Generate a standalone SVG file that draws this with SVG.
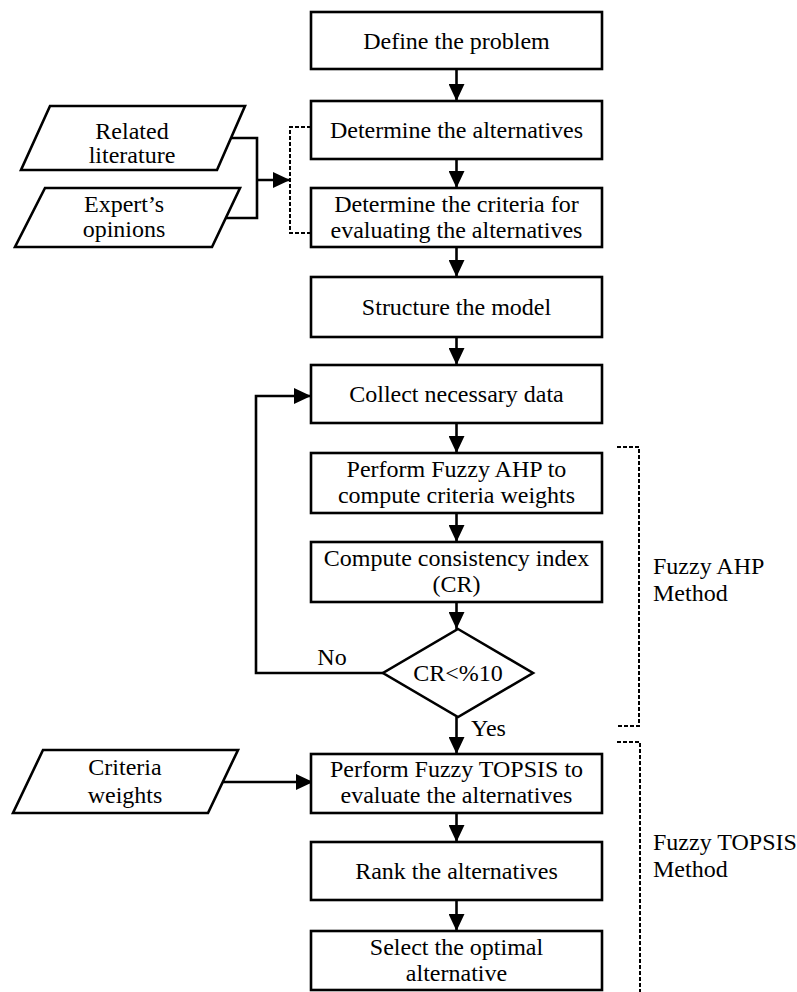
<svg xmlns="http://www.w3.org/2000/svg" width="797" height="992" viewBox="0 0 797 992">
<style>
.box{fill:#fff;stroke:#000;stroke-width:2.6}
.t{font-family:"Liberation Serif","Times New Roman",serif;font-size:24px;fill:#000;text-anchor:middle}
.tl{font-family:"Liberation Serif","Times New Roman",serif;font-size:24px;fill:#000;text-anchor:start}
.ln{fill:none;stroke:#000;stroke-width:2.6}
.arr{fill:none;stroke:#000;stroke-width:2.6;marker-end:url(#ah)}
.dash{fill:none;stroke:#000;stroke-width:2;stroke-dasharray:4 2}
</style>
<defs>
<marker id="ah" markerUnits="userSpaceOnUse" markerWidth="18" markerHeight="16" refX="17" refY="8" orient="auto">
<path d="M0,0 L17,8 L0,16 Z" fill="#000"/>
</marker>
</defs>
<rect width="797" height="992" fill="#fff"/>

<g id="connectors">
<line class="arr" x1="456.5" y1="69" x2="456.5" y2="101"/>
<line class="arr" x1="456.5" y1="159" x2="456.5" y2="188"/>
<line class="arr" x1="456.5" y1="247" x2="456.5" y2="277"/>
<line class="arr" x1="456.5" y1="337" x2="456.5" y2="365"/>
<line class="arr" x1="456.5" y1="423" x2="456.5" y2="453"/>
<line class="arr" x1="456.5" y1="513" x2="456.5" y2="542"/>
<line class="arr" x1="456.5" y1="602" x2="456.5" y2="629"/>
<line class="arr" x1="456.5" y1="717" x2="456.5" y2="754"/>
<line class="arr" x1="456.5" y1="813" x2="456.5" y2="842"/>
<line class="arr" x1="456.5" y1="900" x2="456.5" y2="931"/>
<polyline class="ln" points="231,138 257,138 257,218 226,218"/>
<line class="arr" x1="257" y1="180" x2="290" y2="180"/>
<polyline class="dash" points="311,127 290,127 290,233 311,233"/>
<polyline class="arr" points="383,673 256,673 256,396 311,396"/>
<line class="arr" x1="223" y1="782" x2="313" y2="782"/>
<text class="t" x="332" y="665">No</text>
<text class="tl" x="471" y="736">Yes</text>
</g>

<g id="define">
<rect class="box" x="311" y="12" width="291" height="57"/>
<text class="t" x="456.5" y="49">Define the problem</text>
</g>
<g id="alternatives">
<rect class="box" x="311" y="101" width="291" height="58"/>
<text class="t" x="456.5" y="138">Determine the alternatives</text>
</g>
<g id="criteria">
<rect class="box" x="311" y="188" width="291" height="59"/>
<text class="t" x="456.5" y="211.5">Determine the criteria for</text>
<text class="t" x="456.5" y="237.5">evaluating the alternatives</text>
</g>
<g id="literature">
<polygon class="box" points="50,106 245,106 217,170 21,170"/>
<text class="t" x="132" y="139">Related</text>
<text class="t" x="132" y="163">literature</text>
</g>
<g id="experts">
<polygon class="box" points="45,188 240,188 212,247 15,247"/>
<text class="t" x="124" y="212">Expert’s</text>
<text class="t" x="124" y="237">opinions</text>
</g>
<g id="structure">
<rect class="box" x="311" y="277" width="291" height="60"/>
<text class="t" x="456.5" y="315">Structure the model</text>
</g>
<g id="collect">
<rect class="box" x="311" y="365" width="291" height="58"/>
<text class="t" x="456.5" y="402">Collect necessary data</text>
</g>
<g id="ahp">
<rect class="box" x="311" y="453" width="291" height="60"/>
<text class="t" x="456.5" y="477">Perform Fuzzy AHP to</text>
<text class="t" x="456.5" y="503">compute criteria weights</text>
</g>
<g id="consistency">
<rect class="box" x="311" y="542" width="291" height="60"/>
<text class="t" x="456.5" y="566">Compute consistency index</text>
<text class="t" x="456.5" y="592">(CR)</text>
</g>
<g id="decision">
<polygon class="box" points="458,629 533,673 458,717 383,673"/>
<text class="t" x="458" y="681">CR&lt;%10</text>
</g>
<g id="weights">
<polygon class="box" points="43,750 238,750 208,813 13,813"/>
<text class="t" x="125" y="775">Criteria</text>
<text class="t" x="125" y="803">weights</text>
</g>
<g id="topsis">
<rect class="box" x="311" y="754" width="291" height="59"/>
<text class="t" x="456.5" y="777">Perform Fuzzy TOPSIS to</text>
<text class="t" x="456.5" y="803">evaluate the alternatives</text>
</g>
<g id="rank">
<rect class="box" x="311" y="842" width="291" height="58"/>
<text class="t" x="456.5" y="879">Rank the alternatives</text>
</g>
<g id="select">
<rect class="box" x="311" y="931" width="291" height="59"/>
<text class="t" x="456.5" y="954.5">Select the optimal</text>
<text class="t" x="456.5" y="980.5">alternative</text>
</g>
<g id="ahp-bracket">
<polyline class="dash" points="617,447 639,447 639,726 617,726"/>
<text class="tl" x="653" y="574">Fuzzy AHP</text>
<text class="tl" x="653" y="601">Method</text>
</g>
<g id="topsis-bracket">
<polyline class="dash" points="617,742 640,742 640,992"/>
<text class="tl" x="653" y="850">Fuzzy TOPSIS</text>
<text class="tl" x="653" y="877">Method</text>
</g>
</svg>
